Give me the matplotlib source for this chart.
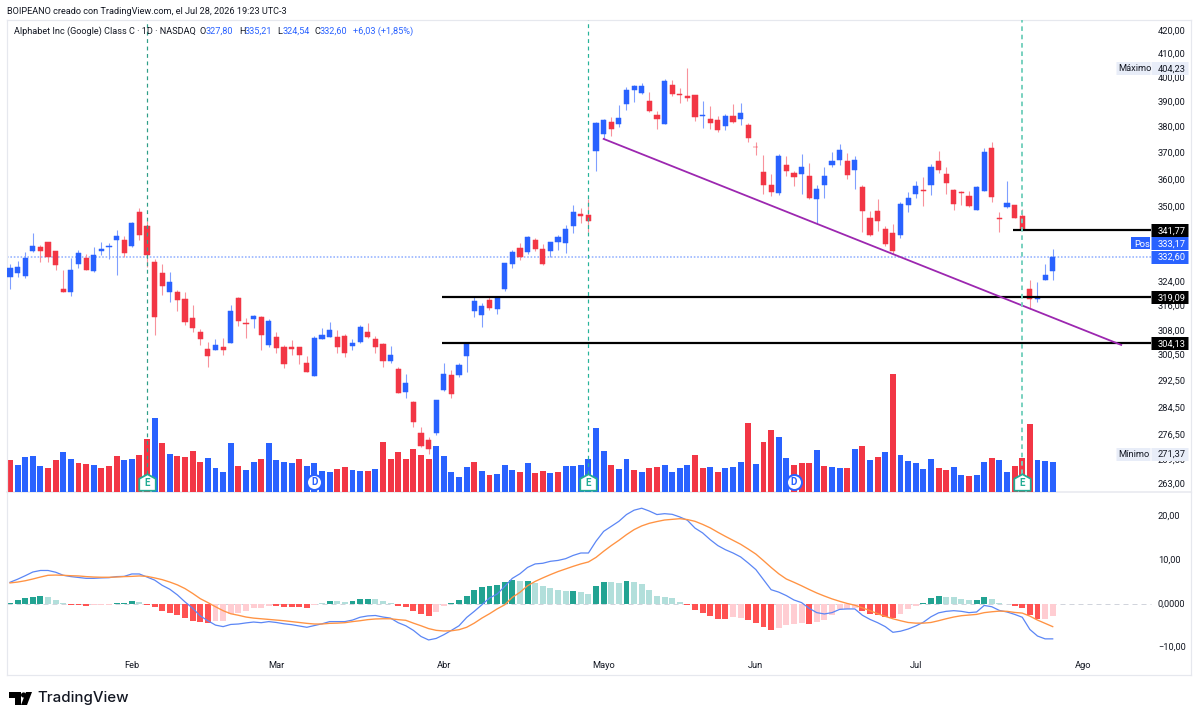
import matplotlib
matplotlib.use("Agg")
import matplotlib.pyplot as plt
import matplotlib.transforms as mtrans
from matplotlib.patches import Polygon, Circle
from matplotlib.path import Path
import numpy as np

W, H = 1199, 721
BLUE, RED = "#2962ff", "#f23645"
INK = "#131722"
FONT = "Roboto"
plt.rcParams["font.family"] = [FONT, "DejaVu Sans"]
TICK_SIZE = 6.7
HEAD_SIZE = 6.55

# Daily OHLC, Alphabet Class C
opens = [325.5,327,326,334.6,335.9,337.7,334.6,321.7,320.6,330.2,
         332.2,327.6,334.4,335.8,338.2,338.3,336.1,348.2,343.3,330.9,
         327,320.8,320.5,318.3,312.1,307.6,302.4,302.1,303.1,304.3,
         318.7,310.6,311.7,312.5,303.6,306.1,303.1,303.1,302.9,297.9,
         293.9,305.6,306.2,306.1,306.5,303.2,304.5,307.7,305.5,303.9,
         298.7,296.1,289.3,286.2,277.2,275.2,277.3,289.7,294.2,294.4,
         300,314.4,313,317.9,315.1,321.7,330.2,335.5,334.1,338.5,
         335.3,334.7,337.6,337.3,343.4,347.5,347.1,371,377.7,382.2,
         381.5,389.3,395.1,393.8,390.5,384.9,381.5,397.2,393.3,392.8,
         393,384.7,383.3,382.9,380.5,384.5,383.5,381.1,372.5,362.9,
         358.1,355.1,365.5,362.7,362.3,361.3,353.1,358.1,365.8,367.5,
         367.1,363.9,357.4,346.1,348.7,342.3,340.9,340,350.8,354.8,
         356.4,358.1,367.2,362.3,356.3,355.4,354,349,356,372,
         346.2,350,350.7,347,321.6,318.5,324.7,327.8]
highs = [330.1,331.2,334.1,340.9,336.7,337.8,334.7,327.9,332.2,334.8,
         333.6,335.9,337.7,337.3,341.9,339.8,344.6,349.9,344.9,331.9,
         330.1,327.4,321.4,320.6,316.3,308.6,304.5,305.5,305.7,316.4,
         318.9,312.1,313.2,312.7,311.8,307.7,303.6,305.1,303,300.2,
         306.3,308.9,310.9,308.4,307.1,305.5,309.8,310.6,306.5,304.2,
         303.2,296.9,294.6,286.4,279,276,286.9,297.9,295.8,298.1,
         304.1,319,317.1,319.3,319.1,330.4,334.8,337.3,339.9,339,
         337,337.8,340.1,343.7,350.7,349.9,353,382.4,383.3,384.1,
         388.9,396.2,397.2,398.1,394.1,386.4,399.5,399.2,395.8,404.23,
         393.2,390.6,388.6,384.7,385.3,389.4,389.8,381.7,374.5,369.6,
         362.3,369.7,369,363.5,369.8,366.4,358.1,364.9,370.7,373.7,
         370.1,368.9,358.1,348.7,352.9,343.2,344.1,352,355.4,359.7,
         361.1,365.9,371,364.9,356.8,356.1,355.9,357.9,372,374.5,
         348.3,359.7,350.8,349.5,324.6,324,330.1,335.21]
lows = [321.8,325.8,325.2,334.1,330.8,330.9,327.9,320.6,319.2,328.6,
        327.9,327.3,333.2,331.9,326.4,332.4,335.8,338.4,329.2,306.6,
        319.8,317.4,314.4,310,307.8,303.7,296.6,301.9,300.4,304.2,
        309.7,305.9,309,302.1,303.1,301,296.4,300.5,297.8,295.2,
        293.9,305.4,306.1,301,299.8,301.9,304.2,305.7,301,296.6,
        298,288.9,287.3,279,273.2,271.37,276.6,289.4,287.5,293.7,
        295.3,312.6,309.4,314.6,313.6,321.1,328.6,331.5,333.5,334.7,
        329.6,332.6,334.9,334,340.7,344.3,341.3,363.2,375.5,376.8,
        380.1,387,390.1,393.6,386.3,379.5,381.5,392.6,389.6,390.8,
        382.8,379.9,379.4,378.1,379,382,381,374.3,369.6,354.9,
        354.1,354.6,361.5,357.8,354.9,353.1,343.9,353.5,364.8,365.6,
        360.4,356.8,341,339.8,341.5,336.1,333.5,339,348.4,353.5,
        350.5,354.4,362.6,355,348.9,350.8,350.1,348.9,355.8,351.9,
        341.3,349.8,346.1,341.7,315.1,317.5,324.5,324.54]
closes = [328.8,328.9,332.2,336.2,334.5,332.6,329.8,320.8,328.1,333.8,
          328,333.2,335.3,336.2,339.8,334,344.4,340.2,333,312.6,
          322.5,323.9,318,311,308.8,305.6,300.2,303.7,302,314.5,
          311.3,310.2,312.8,306.6,311.2,302.6,297.8,302.4,300.4,295.2,
          305.7,306.8,308.2,303.1,301.2,304.3,309.3,306.1,303.1,298.6,
          300.3,289,292,280.4,273.4,272.6,286.8,294.7,288.7,297.4,
          303.9,317.6,316.1,315.3,318.9,330.4,334.3,332.6,339.3,335.2,
          330.1,337.5,339.3,342.2,348.4,346.7,345.1,381.9,383,379.5,
          384,394.9,396.9,396.9,386.5,383.6,398.9,393.4,392.9,391.7,
          384.4,385,381.7,379,384.7,382.2,385.9,376.1,372.3,358.1,
          355.5,368.9,363.2,361.2,364.9,353.3,356.7,361.3,367.1,371.2,
          361.9,367.5,348.7,340,345.1,336.8,334.7,351.3,353.3,357.9,
          356.1,364.9,363.7,358.7,351.1,355.1,350.4,357.4,370.5,353.8,
          345.7,351.5,346.2,341.9,318.3,319.1,326.5,332.6]

# Volume on an arbitrary overlay scale, with its up/down flag per session
volume = [31.7,26.7,35,36,26,24.3,31.7,39.7,33.3,29,
          28,27.3,23.7,26,35.7,31.7,33.3,37,53,74.3,
          48.7,38,36.3,35,41,29.7,34,23.7,20,48.7,
          26,22,29.7,32.7,48.7,31.7,29.7,29,32.7,26,
          29,21.3,20,22.7,25,22,21.3,20.7,22.7,50,
          32.7,39.7,32.7,42.7,37,33.3,45.7,35.7,19.7,15,
          25,30.3,21,17.3,18,27.3,22,20.3,28.7,19,
          21,19,19.7,26.3,25.7,27,32.7,63.7,41,26.7,
          22.7,33.3,22,20.3,24.3,25,26.7,20.3,23.7,27.3,
          37,24.3,25,19.7,23.7,25,30.3,69,28,50,
          62,54.7,34.3,27.3,29,29,42,26,25,24.3,
          23.7,42.7,46.3,32,35,40.3,117.7,37,31,29,
          23,32.7,24.3,22,25,17.3,16,16.7,29.7,34.3,
          32,19.7,26,34.3,67.7,32,31,30.3]
volume_dir = ("RBBBBRRBBR" "RBRRRBBRRB" "RBRRRRBBBB" "RBBRBBBBRB" "BBBRRBBRBR"
              "RRRRRRBBBB" "BRBRBBBRBR" "RBRBBBBBBR" "BBRBRRBBBB" "RRBRBBBRBR"
              "RBBRRRBRBB" "RBRBRBRBBB" "BBRRBBRBBR" "BBRRRBBB")

# MACD study
macd_line = [4.9,5.6,6.4,7.25,7.6,7.6,7.2,6.5,6.2,6.0,
             5.8,5.8,5.9,5.95,6.2,6.25,6.8,6.8,6.1,5.4,
             4.2,3.3,2.0,0.4,-1.05,-2.8,-3.9,-4.9,-5.25,-4.75,
             -4.65,-4.4,-4.2,-4.35,-4.1,-4.3,-4.6,-4.8,-5.1,-5.4,
             -5.0,-4.6,-4.1,-4.1,-4.1,-3.75,-3.1,-2.8,-2.7,-3.05,
             -3.3,-4.35,-5.05,-6.1,-7.5,-8.3,-7.95,-7.1,-6.1,-5.05,
             -3.15,-1.75,-0.25,1.3,2.2,3.95,5.8,6.85,8.3,9.1,
             9.25,9.7,9.9,10.3,11.05,11.6,11.6,14.3,16.55,17.7,
             18.85,20.4,21.4,21.85,21.2,20.4,20.6,20.45,19.85,19.1,
             17.3,16.2,14.65,13.3,12.35,11.6,10.7,9.3,7.8,5.5,
             3.2,2.65,1.85,0.85,0.25,-1.05,-2.05,-2.35,-2.05,-1.3,
             -1.2,-1.2,-2.65,-3.6,-4.35,-5.25,-6.55,-6.3,-5.8,-5.1,
             -4.25,-3,-2.1,-1.75,-1.6,-1.75,-2.05,-1.9,-0.4,-0.7,
             -1.55,-1.9,-2.45,-3.1,-5.9,-7.4,-8.05,-8.05]
signal_line = [4.75,4.95,5.25,5.65,6.1,6.5,6.55,6.5,6.4,6.35,
               6.2,6.1,6.05,6.05,6.1,6.2,6.25,6.35,6.25,5.9,
               5.5,4.95,4.3,3.45,2.35,1.15,0.25,-0.7,-1.6,-2.3,
               -2.65,-3.05,-3.3,-3.45,-3.6,-3.75,-3.9,-4.1,-4.3,-4.5,
               -4.65,-4.65,-4.5,-4.45,-4.35,-4.1,-3.9,-3.65,-3.5,-3.45,
               -3.45,-3.65,-3.8,-4.45,-5.05,-5.7,-6.1,-6.25,-6.2,-5.95,
               -5.4,-4.45,-3.3,-2.3,-1.2,-0.25,1.45,2.6,4.1,5.1,
               5.9,6.65,7.35,7.95,8.55,9.1,9.55,10.6,12,13.3,
               14.5,15.8,16.95,17.8,18.4,18.8,19.15,19.3,19.45,19.25,
               18.85,18.15,17.35,16.35,15.4,14.5,13.6,12.5,11.35,9.85,
               8.3,6.85,5.65,4.9,4.1,3.25,2.45,1.75,1.1,0.55,
               0.05,-0.35,-0.95,-1.6,-2.3,-2.9,-3.45,-3.9,-4.3,-4.45,
               -4.45,-4.3,-3.9,-3.45,-3.05,-2.75,-2.6,-2.45,-2.05,-1.85,
               -1.7,-1.75,-2,-2.15,-2.85,-3.75,-4.5,-5.25]
histogram = [0.2,0.76,1.2,1.6,1.75,1.45,0.9,0.08,-0.2,-0.2,
             -0.55,-0.4,-0.3,-0.3,0.2,0.2,0.55,0.45,-0.2,-0.75,
             -1.6,-2.1,-2.7,-3.35,-3.9,-4.1,-4.4,-3.9,-3.9,-2.45,
             -2.2,-1.7,-0.9,-0.9,-0.55,-0.55,-0.75,-0.75,-0.75,-0.9,
             -0.4,0.2,0.6,0.6,0.3,0.6,1,1,1,0.6,
             0.15,-0.6,-0.85,-1.75,-2.45,-2.85,-1.9,-0.6,0.25,0.9,
             1.8,3.1,3.9,4.1,4.3,5,5.5,5.3,5.3,4.7,
             4,3.6,3.05,2.9,2.9,2.75,2.3,4.1,5,5,
             4.8,5.2,5,4.4,3.2,1.8,1.6,1.3,0.4,-0.4,
             -1.4,-2.1,-2.75,-3.5,-3.5,-3.1,-3.3,-3.8,-4.35,-5.4,
             -6.1,-5.5,-4.9,-4.7,-4.4,-4.65,-4.3,-3.75,-2.7,-1.2,
             -1.2,-1.1,-1.6,-2.3,-2.5,-3,-3.25,-2.4,-1.3,-0.45,
             0.2,1.2,1.75,1.6,1.45,1.05,0.75,0.75,1.6,1.05,
             0.15,-0.15,-0.6,-1,-2.6,-3.6,-3.6,-2.75]
hist_shade = ("DDDDDLLLDD" "DLLLDDDLDD" "DDDDDDDLLL" "LLLLLDDDDD" "LLDLLDDDLL"
              "LDDDDDLLDD" "DDDDDDDLDL" "LLLLDLLDDL" "LDLLLLLLLD" "DDDDDLLDDD"
              "DLLLLDLLLL" "LLDDDDDLLL" "DDDLLLLDDL" "LLDDDDLL")

# Axis ticks, months and chart annotations
price_ticks = [420, 410, 400, 390, 380, 370, 360, 350, 324, 316, 308,
               300.5, 292.5, 284.5, 276.5, 269.5, 263]
macd_ticks = [20, 10, 0, -10]
macd_tick_labels = ["20,00", "10,00", "0,0000", "\u221210,00"]
month_pos = [16, 35, 57, 78, 98, 119, 141]
month_names = ["Feb", "Mar", "Abr", "Mayo", "Jun", "Jul", "Ago"]
earnings_bars = [18, 76, 133]
dividend_bars = [40, 103]
levels = [341.77, 319.09, 304.13]
level_starts = [131.8, 56.8, 56.8]
trend_bars = [78, 146]
trend_prices = [375.6, 303.6]
LAST = 332.60
PREMARKET = 333.17
MAXIMUM = 404.23
MINIMUM = 271.37

# Layout in pixels, converted to figure fractions
L, R, T, MID, B = 7, 1191, 20, 492, 675
X0 = 10.0
STEP = 7.611
xlim = ((L - X0) / STEP, (R - X0) / STEP)

fig = plt.figure(figsize=(W / 100, H / 100), dpi=100, facecolor="white")
ax_p = fig.add_axes([L / W, 1 - MID / H, (R - L) / W, (MID - T) / H])
ax_m = fig.add_axes([L / W, 1 - B / H, (R - L) / W, (B - MID) / H])
ax_v = ax_p.twinx()
ax_v.set_zorder(0)
ax_p.set_zorder(1)
ax_p.patch.set_visible(False)
ax_v.patch.set_facecolor("white")

x = np.arange(len(closes))
px = 0.72  # points per pixel

# Price pane on a log scale
ax_p.set_yscale("log")
ax_p.set_ylim(260.8, 424.7)
ax_p.set_xlim(*xlim)
ax_m.set_xlim(*xlim)
ax_v.set_ylim(0, MID - T)
ax_m.set_ylim(-16.32, 25.56)

vol_col = [BLUE if c == "B" else RED for c in volume_dir]
ax_v.bar(x, volume, width=0.78, color=vol_col, linewidth=0)
ax_v.set_yticks([])

opens_a, closes_a = np.array(opens), np.array(closes)
up = closes_a >= opens_a
col = [BLUE if u else RED for u in up]
wick_col = ["#7f9fff" if u else "#f8929c" for u in up]
ax_p.vlines(x, lows, highs, colors=wick_col, linewidth=1.1 * px, zorder=2)
ax_p.bar(x, np.abs(closes_a - opens_a), bottom=np.minimum(opens_a, closes_a),
         width=0.68, color=col, edgecolor=col, linewidth=0.35, zorder=3)

# Last price line, support levels, trend line
ax_p.plot([xlim[0], 149.9], [LAST, LAST], color="#a9c1ff", lw=2 * px,
          ls=(0, (0.8, 0.9)), zorder=1.8)
for lvl, start in zip(levels, level_starts):
    ax_p.plot([start, 149.9], [lvl, lvl], color="black", lw=2.2 * px,
              solid_capstyle="butt", zorder=4)
ax_p.plot(trend_bars, trend_prices, color="#9c27b0", lw=1.8 * px, zorder=4)

# Earnings session markers and guide lines
ev_trans = ax_p.get_xaxis_transform()
guide_styles = [("#2f9e88", 1.2, (0, (3.2, 3))),
                ("#27b39a", 1.2, (0, (3.2, 3))),
                ("#74d0bd", 1.9, (0, (2.4, 2)))]
for b, (c, lw, ls) in zip(earnings_bars, guide_styles):
    ax_p.plot([b, b], [18 / (MID - T), 1], transform=ev_trans, color=c,
              lw=lw * px, ls=ls, zorder=5)

house = Path([(-1, -1), (1, -1), (1, 0.45), (0, 1), (-1, 0.45), (-1, -1)], closed=True)
for b in earnings_bars:
    ax_p.plot([b], [10 / (MID - T)], transform=ev_trans, marker=house, ms=16.5 * px,
              mfc="white", mec="#22ab94", mew=1.8 * px, zorder=6)
    ax_p.text(b, 9.5 / (MID - T), "E", transform=ev_trans, ha="center", va="center",
              fontsize=7, fontweight="bold", color="#22ab94", zorder=7)
for b in dividend_bars:
    ax_p.plot([b], [10 / (MID - T)], transform=ev_trans, marker="o", ms=15 * px,
              mfc="white", mec=BLUE, mew=2 * px, zorder=6)
    ax_p.text(b, 10 / (MID - T), "D", transform=ev_trans, ha="center", va="center",
              fontsize=7, fontweight="bold", color=BLUE, zorder=7)

# MACD pane
dark_light = {("D", True): "#22a392", ("L", True): "#b2dfdb",
              ("D", False): "#ff5252", ("L", False): "#ffcdd2"}
hist_col = [dark_light[(s, v >= 0)] for s, v in zip(hist_shade, histogram)]
ax_m.bar(x, histogram, width=0.78, color=hist_col, linewidth=0, zorder=2)
ax_m.plot([xlim[0], 149.9], [0, 0], color="#d1d4dc", lw=1 * px, ls=(0, (5, 4)), zorder=1)
ax_m.plot(x, macd_line, color="#5b86f5", lw=1.25 * px, zorder=3)
ax_m.plot(x, signal_line, color="#ff9343", lw=1.35 * px, zorder=3)

# Ticks sit inside the panes at the right and bottom
fmt = lambda v: f"{v:.2f}".replace(".", ",")
label_px = 33
ax_p.yaxis.tick_right()
ax_p.set_yticks(price_ticks)
ax_p.set_yticklabels([fmt(v) for v in price_ticks])
ax_p.minorticks_off()
ax_p.tick_params(axis="y", length=0, pad=-label_px * px, labelsize=TICK_SIZE, labelcolor=INK)
ax_p.tick_params(axis="x", length=0, labelbottom=False)
ax_m.yaxis.tick_right()
ax_m.set_yticks(macd_ticks)
ax_m.set_yticklabels(macd_tick_labels)
ax_m.tick_params(axis="y", length=0, pad=-label_px * px, labelsize=TICK_SIZE, labelcolor=INK)
ax_m.set_xticks(month_pos)
ax_m.set_xticklabels(month_names)
ax_m.tick_params(axis="x", length=0, pad=-13.5 * px, labelsize=TICK_SIZE, labelcolor=INK)

# Scale labels ride one pixel above their gridline position
lift = mtrans.ScaledTranslation(0, 1 / fig.dpi, fig.dpi_scale_trans)
for ax in (ax_p, ax_m):
    for lab in ax.get_yticklabels():
        lab.set_transform(lab.get_transform() + lift)

for ax in (ax_p, ax_m, ax_v):
    for s in ax.spines.values():
        s.set_color("#e6e8ee")
        s.set_linewidth(1.2 * px)
ax_v.spines["bottom"].set_visible(False)
ax_p.spines["bottom"].set_visible(False)
ax_v.spines["top"].set_visible(False)
ax_v.spines["left"].set_visible(False)
ax_v.spines["right"].set_visible(False)
ax_m.spines["top"].set_linewidth(1.5 * px)


def tag(price, x0_px, x1_px, color, text, text_color, dy_px=0, text_px=None, h_px=13):
    """Flat label box on the price scale, optionally nudged away from a neighbour."""
    base = ax_p.get_yaxis_transform()
    tr = mtrans.offset_copy(base, fig=fig, x=0, y=dy_px, units="dots")
    fr = lambda p: (p - L) / (R - L)
    ax_p.plot([fr(x0_px), fr(x1_px)], [price, price], transform=tr, color=color,
              lw=h_px * px, solid_capstyle="butt", zorder=8, clip_on=False)
    tx = text_px if text_px is not None else x0_px + 7
    ax_p.text(fr(tx), price, text, transform=tr, color=text_color, fontsize=TICK_SIZE,
              ha="left", va="center_baseline", zorder=9)


for lvl in levels:
    tag(lvl, 1151, 1188, "black", fmt(lvl), "white")
tag(LAST, 1151, 1188, BLUE, fmt(LAST), "white")
tag(PREMARKET, 1151, 1188, BLUE, fmt(PREMARKET), "white", dy_px=11.5)
tag(PREMARKET, 1131, 1150, BLUE, "Pos", "white", dy_px=11.5, text_px=1134, h_px=12)
tag(MAXIMUM, 1116, 1150, "#e8edf8", "M\u00e1ximo", INK, text_px=1118.5)
tag(MAXIMUM, 1151, 1188, "#e8edf8", fmt(MAXIMUM), INK)
tag(MINIMUM, 1116, 1150, "#e8edf8", "M\u00ednimo", INK, text_px=1118.5)
tag(MINIMUM, 1151, 1188, "#e8edf8", fmt(MINIMUM), INK)


# Header and legend strip
def px_text(xp, yp, s, **kw):
    kw.setdefault("fontsize", HEAD_SIZE)
    kw.setdefault("color", INK)
    fig.text(xp / W, 1 - yp / H, s, ha="left", va="center", **kw)


px_text(7, 11.5, "BOIPEANO creado con TradingView.com, el Jul 28, 2026 19:23 UTC-3")
px_text(14, 31.5, "Alphabet Inc (Google) Class C \u00b7 1D \u00b7 NASDAQ")
for xp, s, c in [(200, "O", INK), (206, "327,80", BLUE), (239, "H", INK), (245, "335,21", BLUE),
                 (277, "L", INK), (283, "324,54", BLUE), (314.5, "C", INK), (320, "332,60", BLUE),
                 (353, "+6,03 (+1,85%)", BLUE)]:
    px_text(xp, 31.5, s, color=c)

# Wordmark in the footer
to_fig = lambda pts: [(a / W, 1 - b / H) for a, b in pts]
fig.add_artist(Polygon(to_fig([(9, 692), (21, 692), (21, 705), (15, 705), (15, 698), (9, 698)]),
                       closed=True, fc="black", ec="none", transform=fig.transFigure))
fig.add_artist(Polygon(to_fig([(26, 692), (32, 692), (27, 705), (21, 705)]),
                       closed=True, fc="black", ec="none", transform=fig.transFigure))
fig.add_artist(Circle((23.6 / W * W, (H - 695)), 2.6, fc="black", ec="none",
                      transform=mtrans.IdentityTransform()))
fig.text(37 / W, 1 - 698 / H, "TradingView", ha="left", va="center", fontsize=10.8,
         family="Inter", fontweight="medium", color="#131722")

fig.savefig("out.png", dpi=100, facecolor="white")
